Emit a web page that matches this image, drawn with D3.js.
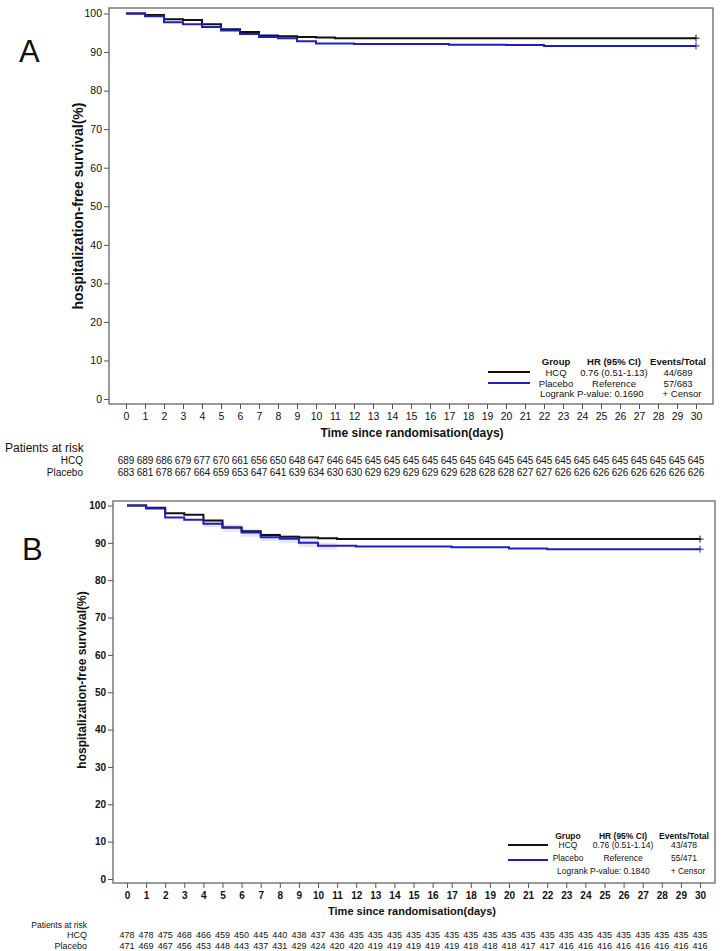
<!DOCTYPE html>
<html>
<head>
<meta charset="utf-8">
<script src="https://cdn.jsdelivr.net/npm/d3@7"></script>
<style>
  body { margin: 0; background: #fff; }
  text { font-family: "Liberation Sans", Arial, sans-serif; fill: #111; }
</style>
</head>
<body>
<svg id="km" width="722" height="951"></svg>
<script>
// Days on the x axis (0..30) and y ticks
const days = [0,1,2,3,4,5,6,7,8,9,10,11,12,13,14,15,16,17,18,19,20,21,22,23,24,25,26,27,28,29,30];
const yTicks = [0,10,20,30,40,50,60,70,80,90,100];

// Panel A: survival (%), one value per day
const aHcqSurv = [100,99.6,98.5,98.3,97.2,95.9,95.2,94.3,94.1,93.9,93.8,93.6,93.6,93.6,93.6,93.6,93.6,93.6,93.6,93.6,93.6,93.6,93.6,93.6,93.6,93.6,93.6,93.6,93.6,93.6,93.6];
const aPlaSurv = [100,99.3,97.7,97.2,96.5,95.6,94.7,93.9,93.6,92.8,92.2,92.2,92.1,92.1,92.1,92.1,92.1,91.9,91.9,91.9,91.8,91.8,91.6,91.6,91.6,91.6,91.6,91.6,91.6,91.6,91.6];
const aHcqRisk = [689,689,686,679,677,670,661,656,650,648,647,646,645,645,645,645,645,645,645,645,645,645,645,645,645,645,645,645,645,645,645];
const aPlaRisk = [683,681,678,667,664,659,653,647,641,639,634,630,630,629,629,629,629,629,628,628,628,627,627,626,626,626,626,626,626,626,626];

// Panel B
const bHcqSurv = [100,99.4,97.9,97.5,96.0,94.1,93.1,92.1,91.6,91.4,91.2,91.0,91.0,91.0,91.0,91.0,91.0,91.0,91.0,91.0,91.0,91.0,91.0,91.0,91.0,91.0,91.0,91.0,91.0,91.0,91.0];
const bPlaSurv = [100,99.2,96.8,96.2,95.1,94.1,92.8,91.5,91.1,90.0,89.2,89.2,89.0,89.0,89.0,89.0,89.0,88.8,88.8,88.8,88.5,88.5,88.3,88.3,88.3,88.3,88.3,88.3,88.3,88.3,88.3];
const bHcqRisk = [478,478,475,468,466,459,450,445,440,438,437,436,435,435,435,435,435,435,435,435,435,435,435,435,435,435,435,435,435,435,435];
const bPlaRisk = [471,469,467,456,453,448,443,437,431,429,424,420,420,419,419,419,419,419,418,418,418,417,417,416,416,416,416,416,416,416,416];
// faint confidence band visible around the placebo curve in B
const bBandDays = [4,5,6,7,8,9,10,11];
const bBandLow  = [94.2,93.0,91.6,90.4,89.9,88.8,88.2,88.2];
const bBandHigh = [95.9,95.0,93.8,92.5,92.1,91.1,90.1,90.1];

const svg = d3.select("#km");

function drawPanel(p) {
  const g = svg.append("g");
  const x = d3.scaleLinear().domain([0, 30]).range(p.xRange);
  const y = d3.scaleLinear().domain([0, 100]).range(p.yRange);
  const [fl, ft, fr, fb] = p.frame;

  // panel letter
  g.append("text").attr("x", p.letterPos[0]).attr("y", p.letterPos[1])
    .style("font-size", "31px").text(p.letter);

  // confidence band
  if (p.band) {
    const area = d3.area()
      .x((d, i) => x(p.band.days[i]))
      .y0((d, i) => y(p.band.low[i]))
      .y1((d, i) => y(p.band.high[i]))
      .curve(d3.curveStepAfter);
    g.append("path").datum(p.band.days).attr("d", area)
      .attr("fill", "#e6e6f7");
  }

  // curves
  const line = d3.line()
    .x((d, i) => x(days[i]))
    .y(d => y(d))
    .curve(d3.curveStepAfter);
  p.series.forEach(s => {
    g.append("path").datum(s.surv).attr("d", line)
      .attr("fill", "none").attr("stroke", s.color).attr("stroke-width", 2);
    // censor mark at the end
    const cx = x(days[days.length - 1]), cy = y(s.surv[s.surv.length - 1]);
    g.append("path").attr("d", `M${cx-3.5},${cy}h7M${cx},${cy-3.5}v7`)
      .attr("stroke", s.color).attr("stroke-width", 1);
  });

  // frame
  g.append("rect").attr("x", fl).attr("y", ft)
    .attr("width", fr - fl).attr("height", fb - ft)
    .attr("fill", "none").attr("stroke", "#666").attr("stroke-width", 1.3);

  // axes
  const yAxis = g.append("g").attr("transform", `translate(${fl},0)`)
    .call(d3.axisLeft(y).tickValues(yTicks).tickSize(5).tickPadding(2));
  yAxis.select(".domain").remove();
  yAxis.selectAll("line").attr("stroke", "#555");
  yAxis.selectAll("text").style("font-size", p.tickFont).style("font-weight", p.tickWeight)
    .style("font-family", "'Liberation Sans', Arial, sans-serif").attr("fill", "#222");

  const xAxis = g.append("g").attr("transform", `translate(0,${fb})`)
    .call(d3.axisBottom(x).tickValues(days).tickSize(5).tickPadding(4));
  xAxis.select(".domain").remove();
  xAxis.selectAll("line").attr("stroke", "#555");
  xAxis.selectAll("text").style("font-size", p.tickFont).style("font-weight", p.tickWeight)
    .style("font-family", "'Liberation Sans', Arial, sans-serif").attr("fill", "#222");

  // axis titles
  g.append("text").attr("x", p.xTitle[0]).attr("y", p.xTitle[1])
    .attr("text-anchor", "middle").style("font-weight", "bold")
    .style("font-size", p.xTitle[2]).text("Time since randomisation(days)");
  g.append("text")
    .attr("transform", `translate(${p.yTitle[0]},${p.yTitle[1]}) rotate(-90)`)
    .attr("text-anchor", "middle").style("font-weight", "bold")
    .style("font-size", p.yTitle[2]).text("hospitalization-free survival(%)");

  // legend
  const L = p.legend;
  const lg = g.append("g").style("font-size", L.font);
  L.header.forEach((t, i) => {
    lg.append("text").attr("x", L.cols[i]).attr("y", L.headerY)
      .attr("text-anchor", "middle").style("font-weight", "bold").text(t);
  });
  L.rows.forEach((r, j) => {
    lg.append("line").attr("x1", L.lineX[0]).attr("x2", L.lineX[1])
      .attr("y1", L.lineY[j]).attr("y2", L.lineY[j])
      .attr("stroke", p.series[j].color).attr("stroke-width", 2);
    r.forEach((t, i) => {
      lg.append("text").attr("x", L.cols[i]).attr("y", L.rowY[j])
        .attr("text-anchor", "middle").text(t);
    });
  });
  lg.append("text").attr("x", L.logrankX).attr("y", L.logrankY).text(L.logrank);
  lg.append("text").attr("x", L.censorX).attr("y", L.logrankY)
    .attr("text-anchor", "middle").text("+  Censor");

  // patients at risk table
  const R = p.risk;
  g.append("text").attr("x", R.titleX).attr("y", R.titleY)
    .attr("text-anchor", R.titleAnchor).style("font-size", R.titleFont)
    .text("Patients at risk");
  p.series.forEach((s, j) => {
    g.append("text").attr("x", R.labelX).attr("y", R.rowY[j])
      .attr("text-anchor", "end").style("font-size", R.font).text(s.name);
    g.append("g").selectAll("text").data(s.risk).join("text")
      .attr("x", (d, i) => x(days[i])).attr("y", R.rowY[j])
      .attr("text-anchor", "middle").style("font-size", R.font)
      .style("font-weight", R.weight).text(d => d);
  });
}

drawPanel({
  letter: "A", letterPos: [19, 62],
  xRange: [126, 696], yRange: [399, 13.5],
  frame: [109, 8, 713, 404],
  tickFont: "10.5px", tickWeight: "normal",
  xTitle: [412, 437, "12px"], yTitle: [83, 206, "14px"],
  series: [
    { name: "HCQ", color: "#111", surv: aHcqSurv, risk: aHcqRisk },
    { name: "Placebo", color: "#1f1fc0", surv: aPlaSurv, risk: aPlaRisk }
  ],
  legend: {
    font: "9.5px", cols: [556, 614, 678],
    header: ["Group", "HR (95% CI)", "Events/Total"],
    rows: [["HCQ", "0.76 (0.51-1.13)", "44/689"], ["Placebo", "Reference", "57/683"]],
    headerY: 365, rowY: [375.5, 386.5], lineY: [372, 383], lineX: [488, 530],
    logrank: "Logrank P-value: 0.1690", logrankX: 540, logrankY: 397, censorX: 682
  },
  risk: {
    titleX: 5, titleY: 452, titleAnchor: "start", titleFont: "12px",
    labelX: 83, rowY: [464, 476], font: "10px", weight: "normal"
  }
});

drawPanel({
  letter: "B", letterPos: [22, 560],
  xRange: [127, 700], yRange: [879, 505.5],
  frame: [113, 501, 715, 883],
  tickFont: "10px", tickWeight: "bold",
  xTitle: [412, 915, "11px"], yTitle: [86, 680, "12px"],
  band: { days: bBandDays, low: bBandLow, high: bBandHigh },
  series: [
    { name: "HCQ", color: "#111", surv: bHcqSurv, risk: bHcqRisk },
    { name: "Placebo", color: "#1f1fc0", surv: bPlaSurv, risk: bPlaRisk }
  ],
  legend: {
    font: "8.5px", cols: [568, 623, 684],
    header: ["Grupo", "HR (95% CI)", "Events/Total"],
    rows: [["HCQ", "0.76 (0.51-1.14)", "43/478"], ["Placebo", "Reference", "55/471"]],
    headerY: 838.5, rowY: [847.5, 860.5], lineY: [845, 860], lineX: [508, 548],
    logrank: "Logrank P-value: 0.1840", logrankX: 557, logrankY: 874, censorX: 688
  },
  risk: {
    titleX: 87, titleY: 928, titleAnchor: "end", titleFont: "8.5px",
    labelX: 87, rowY: [938, 949], font: "9px", weight: "normal"
  }
});
</script>
</body>
</html>
